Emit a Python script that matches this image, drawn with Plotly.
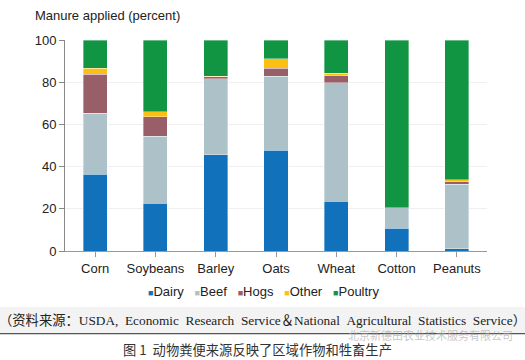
import plotly.graph_objects as go

crops = ["Corn", "Soybeans", "Barley", "Oats", "Wheat", "Cotton", "Peanuts"]
dairy = [36.3, 22.6, 45.6, 47.7, 23.5, 10.9, 1.0]
beef = [29.0, 31.9, 36.1, 35.2, 56.3, 9.6, 30.6]
hogs = [18.4, 9.2, 0.9, 3.8, 3.3, 0.0, 1.2]
other = [2.9, 2.2, 0.2, 4.3, 1.1, 0.0, 1.0]
poultry = [13.4, 34.1, 17.2, 9.0, 15.8, 79.5, 66.2]

series_names = ["Dairy", "Beef", "Hogs", "Other", "Poultry"]
series_values = [dairy, beef, hogs, other, poultry]
series_colors = ["#1171BA", "#ACC2C8", "#985F68", "#FDC012", "#129543"]
y_ticks = [0, 20, 40, 60, 80, 100]

fig = go.Figure()
for name, vals, col in zip(series_names, series_values, series_colors):
    fig.add_trace(go.Bar(
        x=crops, y=vals, name=name, marker_color=col,
        marker_line=dict(color="rgba(255,255,255,0.6)", width=0.6),
        showlegend=False,
    ))

legend_html = "&nbsp;&nbsp;&nbsp;".join(
    f"<span style='color:{c};font-size:9px'>■</span>{n}" for n, c in zip(series_names, series_colors)
)

sp = "&nbsp;&nbsp;"
source_text = ("（资料来源：USDA," + sp + "Economic" + sp + "Research" + sp + "Service＆National"
               + sp + "Agricultural" + sp + "Statistics" + sp + "Service）")

fig.update_layout(
    barmode="stack",
    bargap=0.6,
    width=525, height=360,
    margin=dict(l=65, r=38, t=40, b=109),
    plot_bgcolor="white", paper_bgcolor="white",
    font=dict(family="Liberation Sans, Arial, sans-serif", size=13, color="#222"),
    xaxis=dict(
        showgrid=False, showline=True, linecolor="#999", linewidth=1,
        ticks="outside", ticklen=5, tickcolor="#999",
        tickfont=dict(size=13, color="#222"),
    ),
    yaxis=dict(
        range=[0, 100], tickvals=y_ticks, showgrid=True, gridcolor="#F0F0F0",
        showline=True, linecolor="#888", linewidth=1,
        ticks="outside", ticklen=5, tickcolor="#888",
        tickfont=dict(size=13, color="#222"), zeroline=False,
    ),
    shapes=[
        dict(type="rect", xref="paper", yref="paper", x0=-0.2, x1=1.2,
             y0=-0.389, y1=-0.265, fillcolor="#F3F3F3", line=dict(width=0), layer="below"),
        dict(type="line", xref="paper", yref="paper", x0=-0.2, x1=1.2,
             y0=-0.392, y1=-0.392, line=dict(color="#555", width=1.2)),
    ],
    annotations=[
        dict(text="Manure applied (percent)", xref="paper", yref="paper",
             x=-0.075, y=1.114, xanchor="left", yanchor="middle", showarrow=False,
             font=dict(size=13, color="#222")),
        dict(text=legend_html, xref="paper", yref="paper", x=0.47, y=-0.194,
             xanchor="center", yanchor="middle", showarrow=False,
             font=dict(size=13, color="#222")),
        dict(text=source_text,
             xref="paper", yref="paper", x=0.467, y=-0.33, xanchor="center", yanchor="middle",
             showarrow=False, font=dict(family="Liberation Serif, Noto Sans CJK SC, serif", size=13.3, color="#222")),
        dict(text="图 1  动物粪便来源反映了区域作物和牲畜生产", xref="paper", yref="paper",
             x=0.457, y=-0.466, xanchor="center", yanchor="middle", showarrow=False,
             font=dict(family="Noto Sans CJK SC, serif", size=13.3, color="#333")),
        dict(text="北京新德田农业技术服务有限公司", xref="paper", yref="paper",
             x=1.066, y=-0.4, xanchor="right", yanchor="middle", showarrow=False,
             font=dict(family="Noto Sans CJK SC", size=11, color="rgba(160,160,160,0.6)")),
    ],
)

fig.write_html("out.html", post_script="document.body.style.margin='0';",
               config={"displayModeBar": False})
